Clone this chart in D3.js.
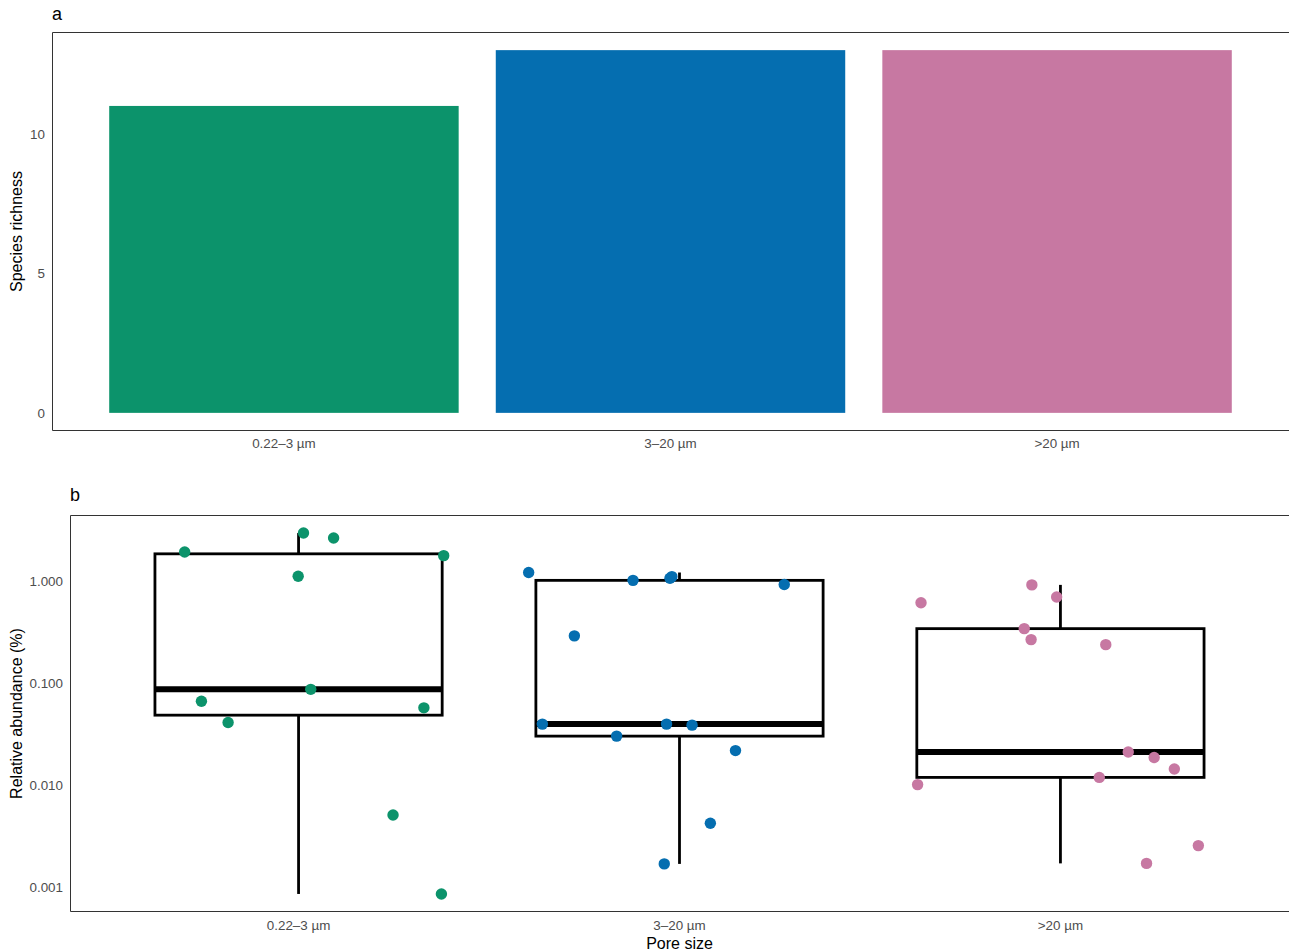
<!DOCTYPE html>
<html>
<head>
<meta charset="utf-8">
<script src="https://cdn.jsdelivr.net/npm/d3@7"></script>
<style>
  html, body { margin: 0; padding: 0; background: #fff; }
  svg { display: block; font-family: "Liberation Sans", Arial, Helvetica, sans-serif; }
</style>
</head>
<body>
<svg id="chart" width="1289" height="952"></svg>
<script>
// ---------------- data ----------------
const categories = ["0.22\u20133 \u00b5m", "3\u201320 \u00b5m", ">20 \u00b5m"];
const colors = ["#0C936B", "#056EB0", "#C778A2"];

// panel a: species richness
const richness = [11, 13, 13];
const richnessTicks = [0, 5, 10];

// panel b: relative abundance (%) per species, by pore size
const abundGreen = [3.00, 2.68, 1.954, 1.80, 1.13, 0.0878, 0.0670, 0.0578, 0.0415, 0.00513, 0.000862];
const jitterGreen = [0.013, 0.092, -0.299, 0.381, -0.001, 0.032, -0.255, 0.329, -0.185, 0.248, 0.375];

const abundBlue = [1.23, 1.08, 1.12, 1.03, 0.939, 0.294, 0.0400, 0.0400, 0.0391, 0.0305, 0.0220, 0.00426, 0.00170];
const jitterBlue = [-0.396, -0.025, -0.020, -0.122, 0.275, -0.276, -0.360, -0.034, 0.033, -0.165, 0.147, 0.081, -0.040];

const abundPink = [0.930, 0.706, 0.621, 0.346, 0.270, 0.241, 0.0213, 0.0188, 0.0145, 0.0120, 0.0102, 0.00257, 0.00172];
const jitterPink = [-0.075, -0.010, -0.366, -0.095, -0.077, 0.119, 0.178, 0.246, 0.299, 0.102, -0.375, 0.362, 0.226];

const abundTicks = [0.001, 0.01, 0.1, 1];
const abundTickLabels = ["0.001", "0.010", "0.100", "1.000"];

const groups = [
  { values: abundGreen, jitter: jitterGreen },
  { values: abundBlue, jitter: jitterBlue },
  { values: abundPink, jitter: jitterPink }
];

// ---------------- drawing ----------------
const svg = d3.select("#chart");
const tickColor = "#4D4D4D";
const borderColor = "#333333";

// ---------- Panel a ----------
const A = { left: 52, right: 1289, top: 32, bottom: 431 };
const xa = d3.scaleLinear().domain([0.4, categories.length + 0.6]).range([A.left, A.right]);
const maxR = d3.max(richness);
const ya = d3.scaleLinear().domain([-0.05 * maxR, maxR * 1.05]).range([A.bottom, A.top]);

const ga = svg.append("g");
ga.selectAll("rect.bar").data(richness).join("rect")
  .attr("class", "bar")
  .attr("x", (d, i) => xa(i + 1 - 0.452))
  .attr("width", (d, i) => xa(i + 1 + 0.452) - xa(i + 1 - 0.452))
  .attr("y", d => ya(d))
  .attr("height", d => ya(0) - ya(d))
  .attr("fill", (d, i) => colors[i]);

// border (left, top, bottom)
ga.append("path")
  .attr("d", `M${A.right},${A.top + 0.5}H${A.left + 0.5}V${A.bottom - 0.5}H${A.right}`)
  .attr("fill", "none").attr("stroke", borderColor).attr("stroke-width", 1);

ga.selectAll("text.ytick").data(richnessTicks).join("text")
  .attr("class", "ytick")
  .attr("x", A.left - 7).attr("y", d => ya(d))
  .attr("dy", "0.36em")
  .attr("text-anchor", "end")
  .attr("font-size", 13.4).attr("fill", tickColor)
  .text(d => d);

ga.selectAll("text.xtick").data(categories).join("text")
  .attr("class", "xtick")
  .attr("x", (d, i) => xa(i + 1)).attr("y", A.bottom + 17)
  .attr("text-anchor", "middle")
  .attr("font-size", 13.4).attr("fill", tickColor)
  .text(d => d);

ga.append("text")
  .attr("transform", `translate(21.5,${(A.top + A.bottom) / 2}) rotate(-90)`)
  .attr("text-anchor", "middle").attr("font-size", 16).attr("fill", "#000")
  .text("Species richness");

ga.append("text").attr("x", 52).attr("y", 19.5)
  .attr("font-size", 18).attr("fill", "#000").text("a");

// ---------- Panel b ----------
const B = { left: 70, right: 1289, top: 515, bottom: 912 };
const xb = d3.scaleLinear().domain([0.4, categories.length + 0.6]).range([B.left, B.right]);
const allLog = groups.flatMap(g => g.values.map(v => Math.log10(v)));
const lmin = d3.min(allLog), lmax = d3.max(allLog), lr = lmax - lmin;
const yb = d3.scaleLog()
  .domain([Math.pow(10, lmin - 0.05 * lr), Math.pow(10, lmax + 0.05 * lr)])
  .range([B.bottom, B.top]);

const gb = svg.append("g");

// boxplots (stats computed on log scale, as with scale_y_log10)
groups.forEach((g, i) => {
  const logs = g.values.map(v => Math.log10(v)).sort(d3.ascending);
  const q1 = d3.quantile(logs, 0.25), med = d3.quantile(logs, 0.5), q3 = d3.quantile(logs, 0.75);
  const iqr = q3 - q1;
  const lo = d3.min(logs.filter(v => v >= q1 - 1.5 * iqr));
  const hi = d3.max(logs.filter(v => v <= q3 + 1.5 * iqr));
  const P = v => yb(Math.pow(10, v));
  const cx = xb(i + 1), x0 = xb(i + 1 - 0.377), x1 = xb(i + 1 + 0.377);
  const box = gb.append("g");
  box.append("line").attr("x1", cx).attr("x2", cx).attr("y1", P(q3)).attr("y2", P(hi))
    .attr("stroke", "#000").attr("stroke-width", 2.8);
  box.append("line").attr("x1", cx).attr("x2", cx).attr("y1", P(q1)).attr("y2", P(lo))
    .attr("stroke", "#000").attr("stroke-width", 2.8);
  box.append("rect").attr("x", x0).attr("width", x1 - x0)
    .attr("y", P(q3)).attr("height", P(q1) - P(q3))
    .attr("fill", "#fff").attr("stroke", "#000").attr("stroke-width", 2.8);
  box.append("line").attr("x1", x0).attr("x2", x1).attr("y1", P(med)).attr("y2", P(med))
    .attr("stroke", "#000").attr("stroke-width", 6);
});

// jittered points
groups.forEach((g, i) => {
  gb.selectAll(null).data(g.values.map((v, k) => ({ v, j: g.jitter[k] }))).join("circle")
    .attr("cx", d => xb(i + 1 + d.j))
    .attr("cy", d => yb(d.v))
    .attr("r", 5.7)
    .attr("fill", colors[i]);
});

gb.append("path")
  .attr("d", `M${B.right},${B.top + 0.5}H${B.left + 0.5}V${B.bottom - 0.5}H${B.right}`)
  .attr("fill", "none").attr("stroke", borderColor).attr("stroke-width", 1);

gb.selectAll("text.ytick").data(abundTicks).join("text")
  .attr("class", "ytick")
  .attr("x", B.left - 7).attr("y", d => yb(d))
  .attr("dy", "0.36em")
  .attr("text-anchor", "end")
  .attr("font-size", 13.4).attr("fill", tickColor)
  .text((d, i) => abundTickLabels[i]);

gb.selectAll("text.xtick").data(categories).join("text")
  .attr("class", "xtick")
  .attr("x", (d, i) => xb(i + 1)).attr("y", B.bottom + 18)
  .attr("text-anchor", "middle")
  .attr("font-size", 13.4).attr("fill", tickColor)
  .text(d => d);

gb.append("text")
  .attr("transform", `translate(21.5,${(B.top + B.bottom) / 2}) rotate(-90)`)
  .attr("text-anchor", "middle").attr("font-size", 16).attr("fill", "#000")
  .text("Relative abundance (%)");

gb.append("text").attr("x", (B.left + B.right) / 2).attr("y", 948.5)
  .attr("text-anchor", "middle").attr("font-size", 16).attr("fill", "#000")
  .text("Pore size");

gb.append("text").attr("x", 70).attr("y", 500.5)
  .attr("font-size", 18).attr("fill", "#000").text("b");
</script>
</body>
</html>
